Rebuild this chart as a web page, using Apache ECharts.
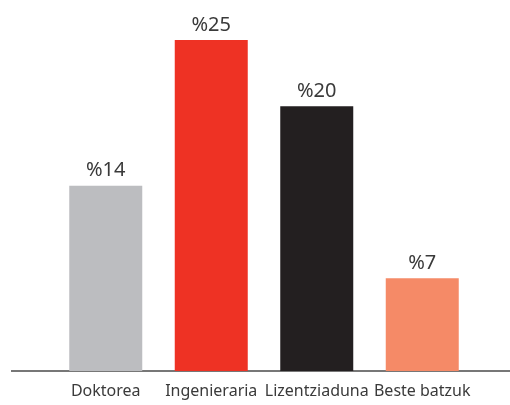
<!DOCTYPE html>
<html>
<head>
<meta charset="utf-8">
<script src="https://cdn.jsdelivr.net/npm/echarts@6/dist/echarts.min.js"></script>
<style>
  html, body { margin: 0; padding: 0; background: #fff; }
  #chart { width: 510px; height: 405px; }
</style>
</head>
<body>
<div id="chart"></div>
<script>
const categories = ['Doktorea', 'Ingenieraria', 'Lizentziaduna', 'Beste batzuk'];
const values = [14, 25, 20, 7];
const barColors = ['#bcbdc0', '#ee3224', '#231f20', '#f58a67'];

const chart = echarts.init(document.getElementById('chart'));

chart.setOption({
  animation: false,
  grid: {
    left: 53,
    width: 422,
    top: 40,
    bottom: 34
  },
  xAxis: {
    type: 'category',
    data: categories,
    axisLine: { show: false },
    axisTick: { show: false },
    axisLabel: {
      interval: 0,
      color: '#3a3a3a',
      fontFamily: 'Noto Sans',
      fontSize: 16,
      margin: 12
    }
  },
  yAxis: {
    type: 'value',
    min: 0,
    max: 25,
    show: false
  },
  graphic: [
    {
      type: 'line',
      shape: { x1: 11, y1: 371, x2: 510, y2: 371 },
      style: { stroke: '#4a4a4a', lineWidth: 1.5 }
    }
  ],
  series: [
    {
      type: 'bar',
      barWidth: 73,
      data: values.map((v, i) => ({
        value: v,
        itemStyle: { color: barColors[i] }
      })),
      label: {
        show: true,
        position: 'top',
        distance: 5,
        formatter: (p) => '%' + p.value,
        color: '#3a3a3a',
        fontFamily: 'Noto Sans',
        fontSize: 20
      }
    }
  ]
});

window.addEventListener('resize', () => {
  chart.resize();
});
</script>
</body>
</html>
